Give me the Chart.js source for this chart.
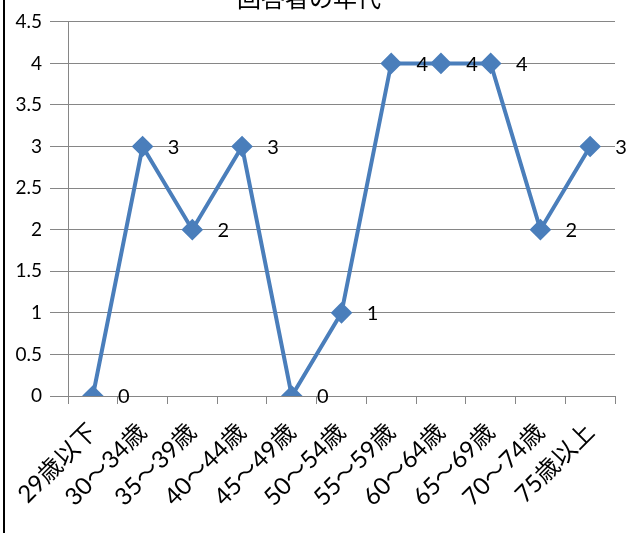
<!DOCTYPE html>
<html><head><meta charset="utf-8">
<script src="https://cdn.jsdelivr.net/npm/chart.js@4/dist/chart.umd.min.js"></script>
<style>
html,body{margin:0;padding:0;background:#fff;}
#wrap{position:relative;width:627px;height:533px;}
#border{position:absolute;left:3px;top:0;width:2px;height:533px;background:#000;}
</style></head>
<body>
<div id="wrap"><canvas id="c" width="627" height="533"></canvas><div id="border"></div></div>
<script>
const titleText = '回答者の年代';
const categories = ['29歳以下','30～34歳','35～39歳','40～44歳','45～49歳','50～54歳','55～59歳','60～64歳','65～69歳','70～74歳','75歳以上'];
const values = [0,3,2,3,0,1,4,4,4,2,3];
const yMin = 0, yMax = 4.5, yStep = 0.5;

const FONT = "Lato, 'Noto Sans CJK JP', sans-serif";
const GRID = '#868686';
const BLUE = '#4A7EBB';

const dataLabels = {
  id: 'dataLabels',
  afterDatasetsDraw(chart) {
    const ctx = chart.ctx;
    const meta = chart.getDatasetMeta(0);
    ctx.save();
    ctx.font = "20px " + FONT;
    ctx.fillStyle = '#000';
    ctx.textAlign = 'center';
    ctx.textBaseline = 'middle';
    meta.data.forEach((pt, i) => {
      ctx.fillText(String(values[i]), pt.x + 31, pt.y + 1);
    });
    ctx.restore();
  }
};

new Chart(document.getElementById('c'), {
  type: 'line',
  data: {
    labels: categories,
    datasets: [{
      data: values,
      borderColor: BLUE,
      backgroundColor: BLUE,
      borderWidth: 4,
      pointStyle: 'rectRot',
      pointRadius: 8,
      pointHoverRadius: 8,
      pointBackgroundColor: BLUE,
      pointBorderColor: BLUE,
      tension: 0
    }]
  },
  options: {
    responsive: false,
    animation: false,
    layout: { padding: { left: 0, right: 9, top: 0, bottom: 0 } },
    plugins: {
      legend: { display: false },
      tooltip: { enabled: false },
      title: {
        display: true,
        text: titleText,
        color: '#000',
        font: { family: FONT, size: 24, weight: 'normal' },
        padding: { top: -15, bottom: 8 }
      }
    },
    scales: {
      x: {
        offset: true,
        grid: { offset: true, drawOnChartArea: false, drawTicks: true, tickLength: 8, color: GRID },
        border: { color: GRID, width: 1 },
        ticks: { color: '#000', font: { family: FONT, size: 24 }, maxRotation: 45, minRotation: 45, autoSkip: false, padding: 14 },
        afterFit(s) { s.height = 137; }
      },
      y: {
        min: yMin, max: yMax,
        grid: { color: GRID, tickLength: 18, lineWidth: 1 },
        border: { color: GRID, width: 1 },
        ticks: { stepSize: yStep, color: '#000', font: { family: FONT, size: 19 }, padding: 8,
          callback: (v) => String(v) },
        afterFit(s) { s.width = 68; }
      }
    }
  },
  plugins: [dataLabels]
});
</script>
</body></html>
